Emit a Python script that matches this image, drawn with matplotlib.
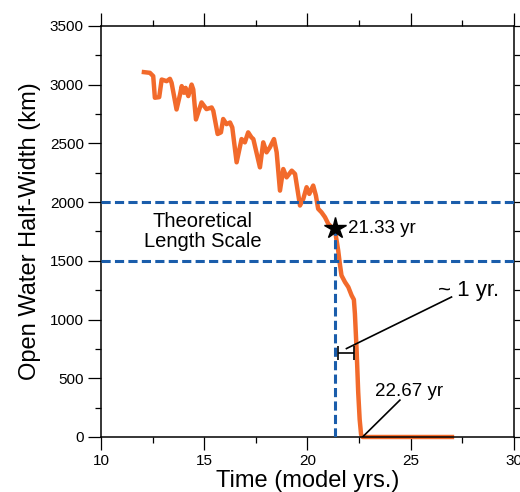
import matplotlib
matplotlib.use('Agg')
import matplotlib.pyplot as plt
from matplotlib import ticker

plt.rcParams['font.family'] = ['Liberation Sans', 'DejaVu Sans']

# model output
time_yrs = [12.08, 12.37, 12.53, 12.61, 12.82, 12.94, 13.18, 13.34, 13.42, 13.66,
            13.83, 13.91, 14.02, 14.10, 14.23, 14.39, 14.47, 14.60, 14.87, 15.11,
            15.36, 15.44, 15.65, 15.81, 15.92, 16.08, 16.25, 16.36, 16.57, 16.81,
            16.97, 17.13, 17.29, 17.38, 17.70, 17.86, 18.02, 18.18, 18.38, 18.51,
            18.67, 18.83, 18.99, 19.24, 19.40, 19.64, 19.80, 19.96, 20.09, 20.28,
            20.41, 20.52, 20.68, 20.85, 21.01, 21.25, 21.33, 21.49, 21.57, 21.65,
            21.82, 21.98, 22.14, 22.25, 22.30, 22.38, 22.46, 22.53, 22.60, 22.67,
            27.0]
half_width_km = [3107, 3101, 3073, 2889, 2894, 3044, 3030, 3050, 3016, 2789,
                 2917, 2988, 2931, 2973, 2903, 3001, 2959, 2704, 2849, 2792,
                 2806, 2778, 2580, 2594, 2708, 2664, 2678, 2636, 2339, 2537,
                 2509, 2594, 2551, 2537, 2296, 2509, 2424, 2466, 2537, 2424,
                 2098, 2282, 2211, 2268, 2240, 1971, 2028, 2127, 2070, 2141,
                 2056, 1943, 1914, 1872, 1815, 1773, 1765, 1589, 1475, 1376,
                 1319, 1277, 1206, 1170, 1050, 750, 380, 150, 20, 0,
                 0]

length_scale_km = [2000, 1500]
onset_time = 21.33
onset_width = 1776
gone_time = 22.67

orange = '#F26A2B'
blue = '#1A5DAB'

fig = plt.figure(figsize=(5.2, 4.92), dpi=100)
ax = fig.add_axes([0.1942, 0.1118, 0.794, 0.8354])

ax.plot(time_yrs, half_width_km, color=orange, lw=3.2, zorder=2, clip_on=False)

for y in length_scale_km:
    ax.axhline(y, color=blue, lw=2.2, dashes=(3, 1.4), zorder=3)
ax.plot([onset_time, onset_time], [0, onset_width], color=blue, lw=2.2,
        dashes=(3, 1.4), zorder=3)
ax.plot(onset_time, onset_width, marker='*', ms=16, color='k', zorder=5)

ax.text(14.94, 1750, 'Theoretical\nLength Scale', ha='center', va='center',
        fontsize=14.5, linespacing=1.05)
ax.text(21.96, 1776, '21.33 yr', ha='left', va='center', fontsize=13.5)
ax.text(23.27, 391, '22.67 yr', ha='left', va='center', fontsize=13.5)
ax.text(26.32, 1249, '~ 1 yr.', ha='left', va='center', fontsize=16)

# leader lines for the labels
ax.plot([26.98, 21.89], [1192, 753], color='k', lw=1.2, zorder=4)
ax.plot([24.48, gone_time], [314, 0], color='k', lw=1.2, zorder=4)
ax.errorbar(21.87, 711, xerr=0.38, color='k', lw=1.2, capsize=5,
            capthick=1.2, zorder=4)

ax.set_xlim(10, 30)
ax.set_ylim(0, 3500)
ax.xaxis.set_major_locator(ticker.MultipleLocator(5))
ax.xaxis.set_minor_locator(ticker.MultipleLocator(2.5))
ax.yaxis.set_major_locator(ticker.MultipleLocator(500))
ax.yaxis.set_minor_locator(ticker.MultipleLocator(250))
ax.tick_params(which='both', direction='out', top=True, right=True,
               width=0.9, labelsize=11, pad=3)
ax.tick_params(which='major', length=9.4)
ax.tick_params(which='minor', length=4.3)
for spine in ax.spines.values():
    spine.set_linewidth(1.1)

ax.set_xlabel('Time (model yrs.)', fontsize=17, labelpad=1)
ax.set_ylabel('Open Water Half-Width (km)', fontsize=17, labelpad=6)

fig.savefig('out.png', dpi=100)
